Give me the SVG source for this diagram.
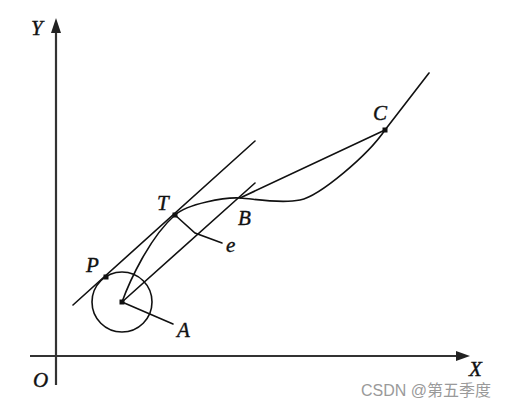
<svg xmlns="http://www.w3.org/2000/svg" width="512" height="403" viewBox="0 0 512 403">
<defs>
<style>
.ax{stroke:#333;stroke-width:2.2;fill:none}
.ln{stroke:#111;stroke-width:1.6;fill:none;stroke-linecap:round}
.pt{fill:#111}
.lb{font-family:"Liberation Serif",serif;font-style:italic;font-size:21px;fill:#111;stroke:#111;stroke-width:0.4}
.wm{font-family:"Liberation Sans","Noto Sans CJK SC",sans-serif;font-size:16px;fill:#9a9a9a}
</style>
</defs>
<rect width="512" height="403" fill="#fff"/>
<g id="axes">
<line class="ax" x1="56" y1="385" x2="56" y2="30"/>
<polygon points="56,18 51,33 61,33" fill="#222"/>
<line class="ax" x1="30" y1="356" x2="460" y2="356"/>
<polygon points="470,356 456,351 456,361" fill="#222"/>
<text class="lb" x="31" y="35">Y</text>
<text class="lb" x="33" y="387">O</text>
<text class="lb" x="469" y="376">X</text>
</g>
<g id="connectors">
<line class="ln" x1="73" y1="305" x2="255" y2="141"/>
<line class="ln" x1="122" y1="302" x2="255" y2="183"/>
<line class="ln" x1="240" y1="198" x2="385" y2="130"/>
<path class="ln" d="M122,302 C130,280 150,237 175,215 C187,204 225,197 240,198 C255,199 280,204 300,200 S368,155 385,130 L429,73"/>
<polyline class="ln" points="175,215 195,233 222,243"/>
<line class="ln" x1="122" y1="302" x2="173" y2="324"/>
</g>
<g id="circle">
<circle class="ln" cx="122" cy="302" r="30"/>
</g>
<g id="A"><rect class="pt" x="119.5" y="299.5" width="5" height="5"/><text class="lb" x="177" y="337">A</text></g>
<g id="P"><rect class="pt" x="103.5" y="274.5" width="5" height="5"/><text class="lb" x="86" y="272">P</text></g>
<g id="T"><rect class="pt" x="172.5" y="212.5" width="5" height="5"/><text class="lb" x="157" y="210">T</text></g>
<g id="B"><text class="lb" x="238" y="225">B</text></g>
<g id="e"><text class="lb" x="226" y="252">e</text></g>
<g id="C"><rect class="pt" x="382.5" y="127.5" width="5" height="5"/><text class="lb" x="373" y="120">C</text></g>
<text class="wm" x="361" y="396">CSDN @第五季度</text>
</svg>
